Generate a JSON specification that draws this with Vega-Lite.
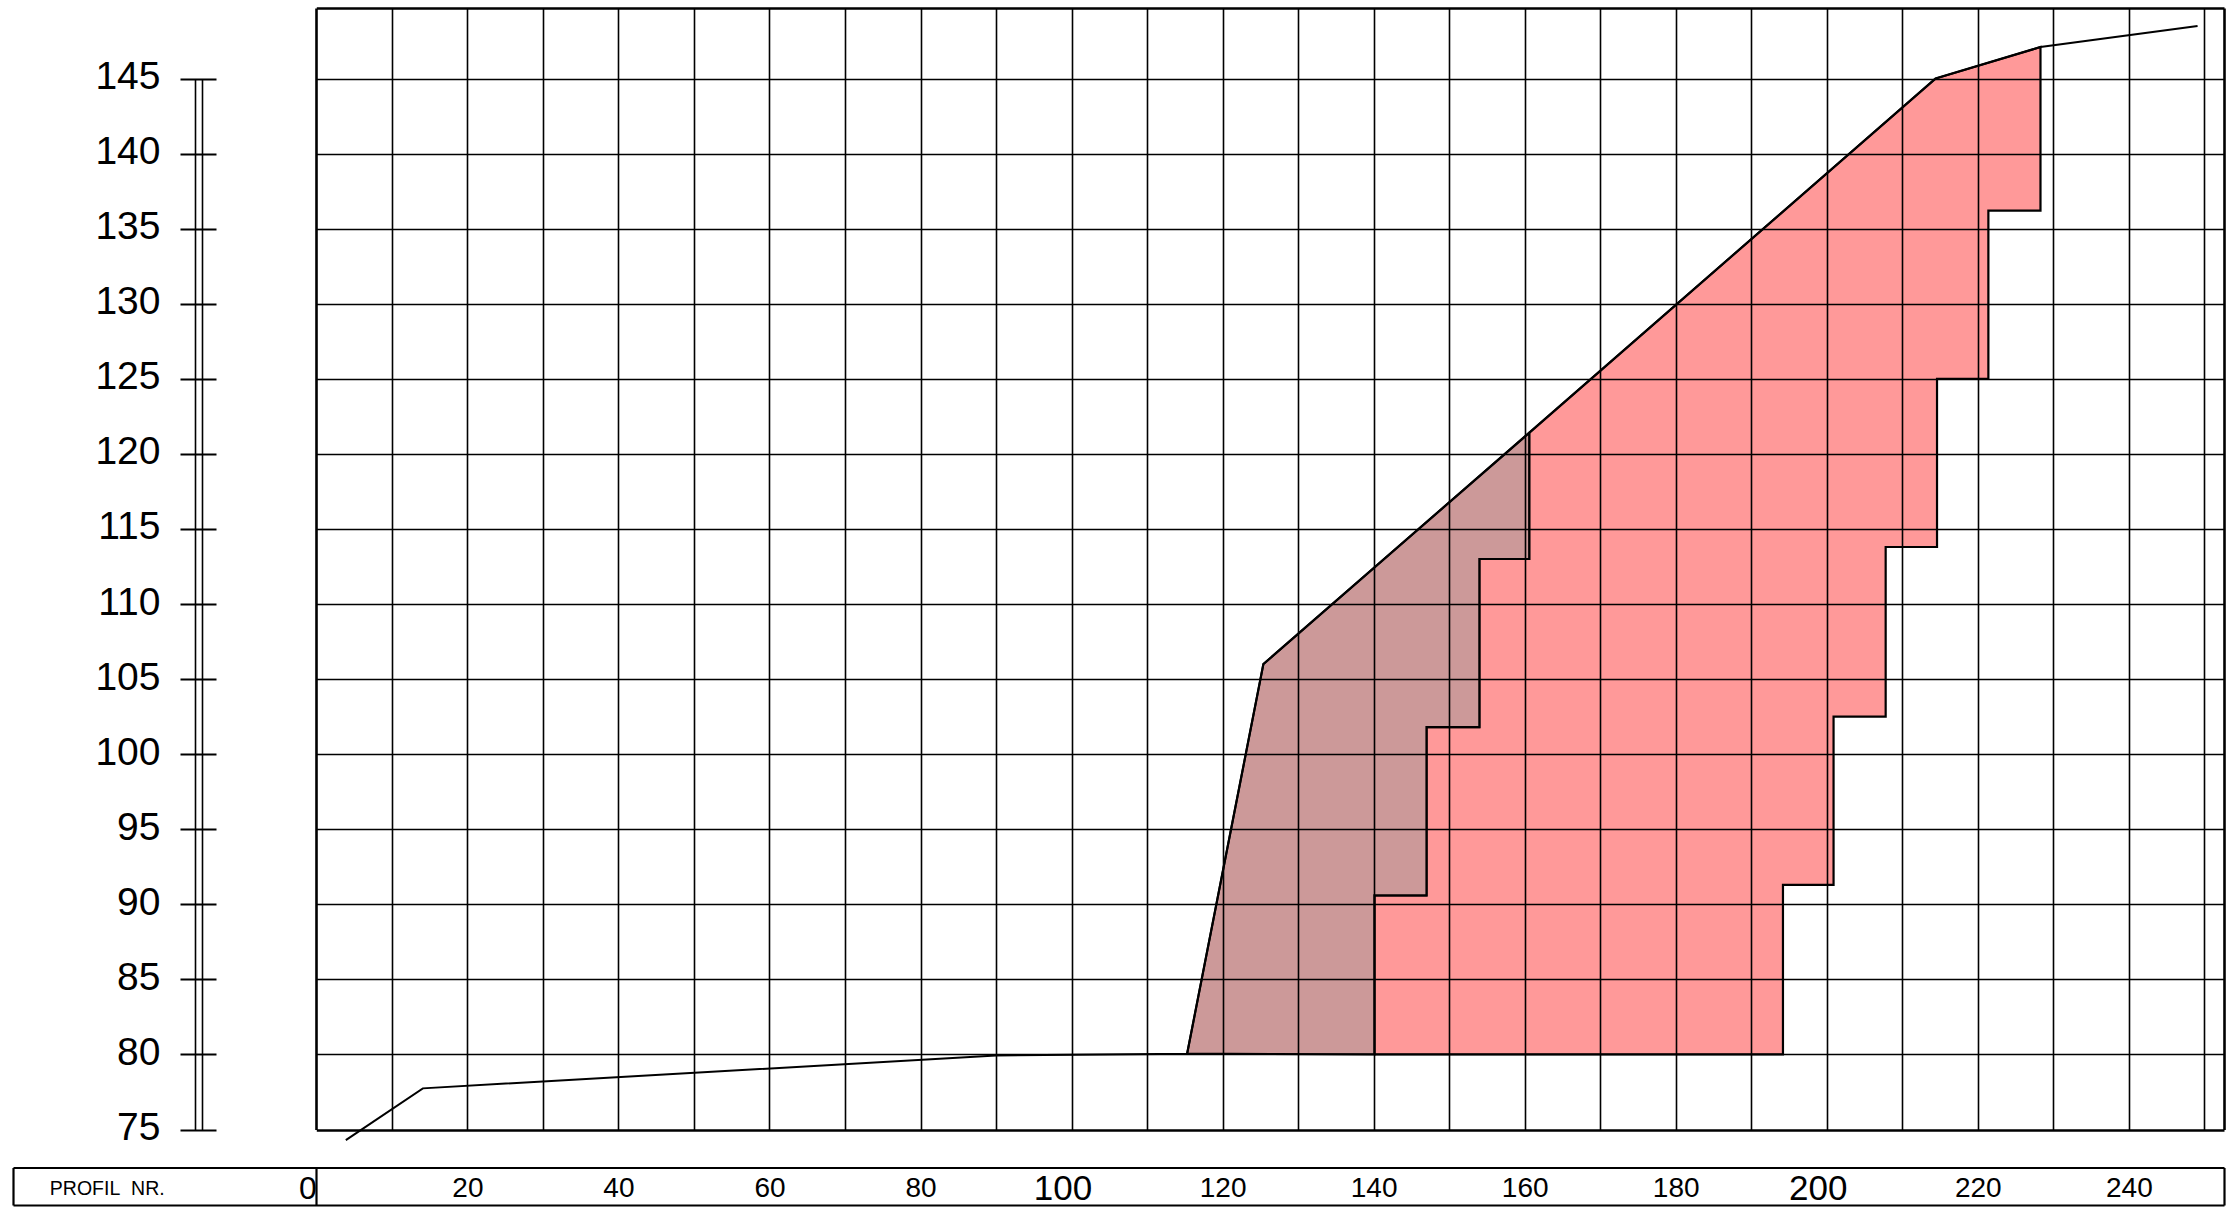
{
  "$schema": "https://vega.github.io/schema/vega-lite/v6.json",
  "autosize": "none",
  "padding": {"left": 13, "top": 8, "right": 10, "bottom": 83.5},
  "width": 2211,
  "height": 1121.5,
  "background": "white",
  "config": {
    "view": {"stroke": null},
    "font": "Liberation Sans, Arial, sans-serif"
  },
  "datasets": {
    "pink": [
      {"i": 0, "x": 140.1, "y": 80},
      {"i": 1, "x": 140.1, "y": 90.6},
      {"i": 2, "x": 147.0, "y": 90.6},
      {"i": 3, "x": 147.0, "y": 101.8},
      {"i": 4, "x": 154.0, "y": 101.8},
      {"i": 5, "x": 154.0, "y": 113.0},
      {"i": 6, "x": 160.6, "y": 113.0},
      {"i": 7, "x": 160.6, "y": 121.4},
      {"i": 8, "x": 214.4, "y": 145.0},
      {"i": 9, "x": 228.3, "y": 147.1},
      {"i": 10, "x": 228.3, "y": 136.2},
      {"i": 11, "x": 221.4, "y": 136.2},
      {"i": 12, "x": 221.4, "y": 125.0},
      {"i": 13, "x": 214.6, "y": 125.0},
      {"i": 14, "x": 214.6, "y": 113.8},
      {"i": 15, "x": 207.8, "y": 113.8},
      {"i": 16, "x": 207.8, "y": 102.5},
      {"i": 17, "x": 200.9, "y": 102.5},
      {"i": 18, "x": 200.9, "y": 91.3},
      {"i": 19, "x": 194.2, "y": 91.3},
      {"i": 20, "x": 194.2, "y": 80},
      {"i": 21, "x": 140.1, "y": 80}
    ],
    "brown": [
      {"i": 0, "x": 115.3, "y": 80.05},
      {"i": 1, "x": 125.4, "y": 106.0},
      {"i": 2, "x": 160.6, "y": 121.4},
      {"i": 3, "x": 160.6, "y": 113.0},
      {"i": 4, "x": 154.0, "y": 113.0},
      {"i": 5, "x": 154.0, "y": 101.8},
      {"i": 6, "x": 147.0, "y": 101.8},
      {"i": 7, "x": 147.0, "y": 90.6},
      {"i": 8, "x": 140.1, "y": 90.6},
      {"i": 9, "x": 140.1, "y": 80},
      {"i": 10, "x": 115.3, "y": 80.05}
    ],
    "terrain": [
      {"i": 0, "x": 3.9, "y": 74.29},
      {"i": 1, "x": 14.1, "y": 77.74},
      {"i": 2, "x": 90.0, "y": 79.93},
      {"i": 3, "x": 115.3, "y": 80.05},
      {"i": 4, "x": 125.4, "y": 106.0},
      {"i": 5, "x": 214.4, "y": 145.0},
      {"i": 6, "x": 228.3, "y": 147.1},
      {"i": 7, "x": 249.1, "y": 148.5}
    ]
  },
  "resolve": {"axis": {"x": "independent", "y": "independent"}},
  "layer": [
    {
      "data": {"name": "pink"},
      "mark": {"type": "line", "fill": "#ff9999", "stroke": "black", "strokeWidth": 2.2, "strokeJoin": "miter"},
      "encoding": {
        "order": {"field": "i", "type": "quantitative"},
        "x": {
          "field": "x", "type": "quantitative",
          "scale": {"domain": [-40.17, 252.6], "nice": false, "zero": false},
          "axis": {
            "orient": "bottom", "offset": 75.5, "zindex": 1, "title": null,
            "values": [-16.05, -15.1, 0, 10, 20, 30, 40, 50, 60, 70, 80, 90, 100, 110, 120, 130, 140, 150, 160, 170, 180, 190, 200, 210, 220, 230, 240, 250, 252.6],
            "grid": true, "gridColor": "black",
            "gridWidth": {"condition": {"test": "datum.value == 0 || datum.value > 252", "value": 2.6}, "value": 1.6},
            "gridDash": {"condition": {"test": "datum.value < 0", "value": [0, 70.6, 1051, 3000]}, "value": []},
            "ticks": false, "labels": false,
            "domain": true, "domainColor": "black", "domainWidth": 2.2
          }
        },
        "y": {
          "field": "y", "type": "quantitative",
          "scale": {"domain": [75, 149.7], "nice": false, "zero": false},
          "axis": {
            "orient": "left", "offset": 0, "zindex": 1, "title": null,
            "values": [75, 80, 85, 90, 95, 100, 105, 110, 115, 120, 125, 130, 135, 140, 145, 149.7],
            "grid": true, "gridColor": "black",
            "gridWidth": {"condition": {"test": "datum.value == 75 || datum.value > 149", "value": 2.6}, "value": 1.6},
            "gridDash": [0, 303.3, 3000],
            "ticks": false, "labels": false, "domain": false
          }
        }
      }
    },
    {
      "data": {"name": "brown"},
      "mark": {"type": "line", "fill": "#cc9999", "stroke": "black", "strokeWidth": 2.2, "strokeJoin": "miter"},
      "encoding": {
        "order": {"field": "i", "type": "quantitative"},
        "x": {
          "field": "x", "type": "quantitative",
          "scale": {"domain": [-40.17, 252.6], "nice": false, "zero": false},
          "axis": {
            "orient": "bottom", "offset": 38, "zindex": 1, "title": null,
            "values": [-40.17, -35.36, 0, 20, 40, 60, 80, 100, 120, 140, 160, 180, 200, 220, 240, 252.6],
            "grid": false,
            "domain": true, "domainColor": "black", "domainWidth": 2.2,
            "ticks": true, "tickColor": "black", "tickSize": 37.5, "tickWidth": 2.2,
            "tickOpacity": {"condition": {"test": "datum.value < -38 || datum.value == 0 || datum.value > 250", "value": 1}, "value": 0},
            "labelExpr": "datum.value < -38 || datum.value > 250 ? '' : (datum.value < -30 ? 'PROFIL\u00a0\u00a0NR.' : datum.label)",
            "labelFontSize": {"condition": [
              {"test": "datum.value < -30", "value": 19.5},
              {"test": "datum.value == 0", "value": 32},
              {"test": "datum.value == 100 || datum.value == 200", "value": 35}
            ], "value": 28},
            "labelAlign": {"condition": [
              {"test": "datum.value < -30", "value": "left"},
              {"test": "datum.value == 0", "value": "right"}
            ], "value": "center"},
            "labelOffset": {"condition": {"test": "datum.value == 100 || datum.value == 200", "value": -9}, "value": 0},
            "labelBaseline": "middle",
            "labelPadding": -17,
            "labelColor": "black",
            "labelOverlap": false, "labelFlush": false, "labelBound": false
          }
        },
        "y": {
          "field": "y", "type": "quantitative",
          "scale": {"domain": [75, 149.7], "nice": false, "zero": false},
          "axis": {
            "orient": "left", "offset": -203, "zindex": 1, "title": null,
            "values": [75, 80, 85, 90, 95, 100, 105, 110, 115, 120, 125, 130, 135, 140, 145],
            "grid": false, "domain": false,
            "ticks": true, "tickColor": "black", "tickSize": 36, "tickWidth": 2,
            "labelFontSize": 39, "labelPadding": 20, "labelColor": "black", "labelOffset": -2,
            "labelOverlap": false, "labelFlush": false, "labelBound": false
          }
        }
      }
    },
    {
      "data": {"name": "terrain"},
      "mark": {"type": "line", "stroke": "black", "strokeWidth": 2},
      "encoding": {
        "order": {"field": "i", "type": "quantitative"},
        "x": {"field": "x", "type": "quantitative", "scale": {"domain": [-40.17, 252.6], "nice": false, "zero": false}, "axis": null},
        "y": {"field": "y", "type": "quantitative", "scale": {"domain": [75, 149.7], "nice": false, "zero": false}, "axis": null}
      }
    }
  ]
}
